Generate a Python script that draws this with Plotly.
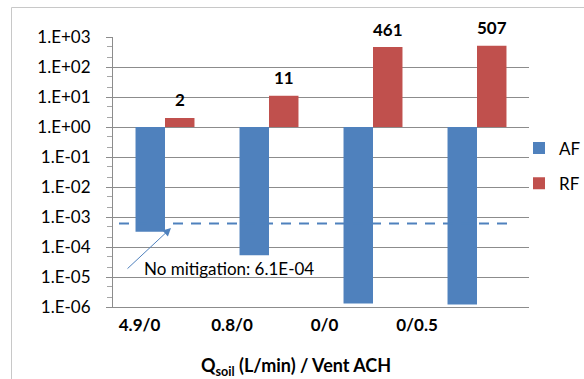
import math
import plotly.graph_objects as go

categories = ["4.9/0", "0.8/0", "0/0", "0/0.5"]
af_values = [3.2e-4, 5.3e-5, 1.3e-6, 1.2e-6]
rf_values = [2, 11, 461, 507]
rf_labels = ["2", "11", "461", "507"]
no_mitigation = 6.1e-4
no_mitigation_label = "No mitigation: 6.1E-04"
ytick_vals = [1e-6, 1e-5, 1e-4, 1e-3, 1e-2, 1e-1, 1e0, 1e1, 1e2, 1e3]
ytick_text = ["1.E-06", "1.E-05", "1.E-04", "1.E-03", "1.E-02", "1.E-01",
              "1.E+00", "1.E+01", "1.E+02", "1.E+03"]
baseline = 1.0

W, H = 584, 379
ML, MR, MT, MB = 113, 55, 37, 72
PW, PH = W - ML - MR, H - MT - MB

def pxx(p):
    return (p - ML) / PW

def pxy(p):
    return (H - MB - p) / PH

FONT = "Lato, 'Open Sans', sans-serif"
BLUE = "#4F81BD"
RED = "#C0504D"
GRID = "#8C8C8C"
FRAME = "#C8C8C8"

fig = go.Figure()
fig.add_trace(go.Bar(
    name="AF", x=categories, y=[v - baseline for v in af_values], base=baseline,
    marker=dict(color=BLUE, line=dict(width=0)), legendgroup="AF",
))
fig.add_trace(go.Bar(
    name="RF", x=categories, y=[v - baseline for v in rf_values], base=baseline,
    marker=dict(color=RED, line=dict(width=0)), legendgroup="RF",
))

annotations = []
for c, v, t in zip(categories, rf_values, rf_labels):
    annotations.append(dict(x=c, y=math.log10(v), xref="x", yref="y", text="<b>%s</b>" % t,
                            showarrow=False, yshift=18, xshift=15,
                            font=dict(family=FONT, size=17, color="black")))
annotations.append(dict(x=pxx(142), y=pxy(268), xref="paper", yref="paper", xanchor="left",
                        yanchor="middle", text=no_mitigation_label, showarrow=False,
                        font=dict(family=FONT, size=17, color="black")))
annotations.append(dict(x=pxx(171), y=pxy(228), xref="paper", yref="paper", text="",
                        showarrow=True, ax=-45, ay=42, arrowhead=2, arrowsize=1.6,
                        arrowwidth=1, arrowcolor=BLUE))
annotations.append(dict(x=pxx(296), y=pxy(366), xref="paper", yref="paper",
                        text="<b>Q<sub>soil</sub> (L/min) / Vent ACH</b>", showarrow=False,
                        xanchor="center", yanchor="middle",
                        font=dict(family=FONT, size=18, color="black")))

shapes = [
    dict(type="line", xref="paper", yref="y", x0=pxx(119), x1=pxx(511),
         y0=no_mitigation, y1=no_mitigation,
         line=dict(color=BLUE, width=2, dash="10px,8px")),
    dict(type="line", xref="paper", yref="paper", x0=pxx(11.5), x1=pxx(11.5),
         y0=pxy(7.5), y1=pxy(400), line=dict(color=FRAME, width=1), layer="above"),
    dict(type="line", xref="paper", yref="paper", x0=pxx(11.5), x1=pxx(600),
         y0=pxy(7.5), y1=pxy(7.5), line=dict(color=FRAME, width=1), layer="above"),
]

fig.update_layout(
    width=W, height=H,
    margin=dict(l=ML, r=MR, t=MT, b=MB, autoexpand=False),
    paper_bgcolor="white", plot_bgcolor="white",
    barmode="group", bargap=0.433, bargroupgap=0,
    font=dict(family=FONT, size=17, color="black"),
    showlegend=True,
    legend=dict(x=pxx(519), y=pxy(166), xanchor="left", yanchor="middle",
                traceorder="grouped", tracegroupgap=10,
                font=dict(family=FONT, size=17, color="black"),
                bgcolor="rgba(0,0,0,0)"),
    annotations=annotations,
    shapes=shapes,
    xaxis=dict(range=[-0.5, len(categories) - 0.5], showticklabels=False, ticks="",
               showgrid=False, showline=True, linecolor=GRID, linewidth=1, zeroline=False,
               automargin=False),
    xaxis2=dict(overlaying="x", anchor="y", side="bottom",
                range=[-0.2865, -0.2865 + PW / 92.5],
                tickmode="array", tickvals=list(range(len(categories))), ticktext=categories,
                ticks="", showgrid=False, showline=False, zeroline=False, automargin=False,
                tickfont=dict(family=FONT, size=17, color="black", weight="bold"),
                ticklabelstandoff=6),
    yaxis=dict(type="log", range=[-6, 3], tickmode="array", tickvals=ytick_vals,
               ticktext=ytick_text, showgrid=True, gridcolor=GRID, gridwidth=1,
               showline=True, linecolor=GRID, linewidth=1, ticks="outside", ticklen=6,
               tickcolor=GRID, ticklabelstandoff=12, automargin=False,
               minor=dict(ticks="outside", ticklen=5, tickcolor="#A6A6A6", showgrid=False),
               tickfont=dict(family=FONT, size=17, color="black"), zeroline=False),
)
fig.add_trace(go.Scatter(x=[None], y=[None], xaxis="x2", yaxis="y", showlegend=False,
                         hoverinfo="skip"))

fig.write_html("out.html", config={"displayModeBar": False},
               post_script="document.body.style.margin='0px';document.body.style.overflow='hidden';")
